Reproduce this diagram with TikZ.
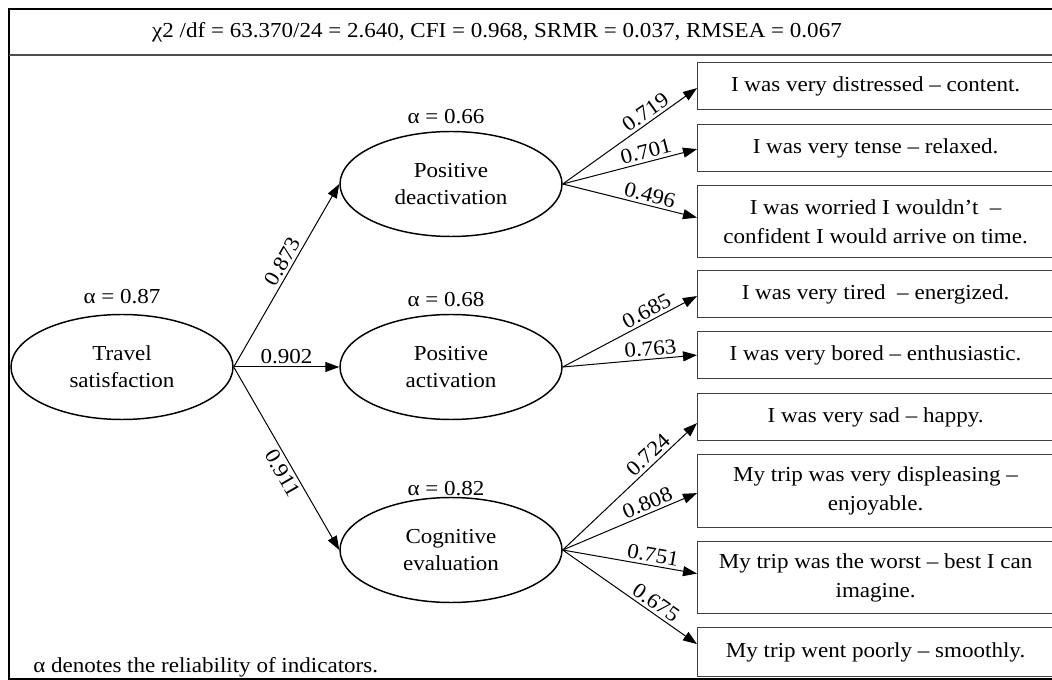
\documentclass[tikz,border=0pt]{standalone}
\usepackage{fontspec}
\setmainfont{Liberation Serif}[FakeStretch=1.08]
\usetikzlibrary{shapes.geometric,arrows.meta,calc}
\begin{document}
\begin{tikzpicture}[x=0.75pt,y=-0.75pt,
  txt/.style={font=\fontsize{16}{20}\selectfont, inner sep=0pt},
  latent/.style={ellipse, draw=black, line width=1.1pt, minimum width=166.5pt, minimum height=78.75pt,
    inner sep=0pt, align=center, font=\fontsize{16}{20}\selectfont},
  itembox/.style={rectangle, draw=black!75, line width=0.9pt, minimum width=267pt, anchor=north west,
    inner sep=0pt, align=center, font=\fontsize{16}{22}\selectfont},
  path/.style={line width=0.75pt, -{Triangle[length=10.5pt,width=7.5pt]}},
  coef/.style={sloped, above, inner sep=2pt, font=\fontsize{16}{20}\selectfont}]
\useasboundingbox (0,0) rectangle (1052,680);
\clip (0,0) rectangle (1052,680);
% frame
\draw[line width=1.2pt] (9,9) rectangle (1070,679);
\draw[line width=0.8pt, black!70] (9,55) -- (1070,55);
\node[txt] (hdr) at (497,32) {χ2 /df = 63.370/24 = 2.640, CFI = 0.968, SRMR = 0.037, RMSEA = 0.067};
\node[txt, anchor=west] (note) at (33,667) {α denotes the reliability of indicators.};
% latent variables
\node[latent] (ts) at (122,367) {Travel\\satisfaction};
\node[latent] (pd) at (451,184) {Positive\\deactivation};
\node[latent] (pa) at (451,367) {Positive\\activation};
\node[latent] (ce) at (451,550) {Cognitive\\evaluation};
\node[txt] (a1) at (122,297) {α = 0.87};
\node[txt] (a2) at (446,117) {α = 0.66};
\node[txt] (a3) at (446,300) {α = 0.68};
\node[txt] (a4) at (446,489) {α = 0.82};
% indicator boxes
\node[itembox, minimum height=35.25pt] (b1) at (697,62) {I was very distressed – content.};
\node[itembox, minimum height=35.25pt] (b2) at (697,124) {I was very tense – relaxed.};
\node[itembox, minimum height=54pt] (b3) at (697,185) {I was worried I wouldn’t \ –\\confident I would arrive on time.};
\node[itembox, minimum height=35.25pt] (b4) at (697,270) {I was very tired \ – energized.};
\node[itembox, minimum height=35.25pt] (b5) at (697,331) {I was very bored – enthusiastic.};
\node[itembox, minimum height=35.25pt] (b6) at (697,393) {I was very sad – happy.};
\node[itembox, minimum height=54.75pt] (b7) at (697,454) {My trip was very displeasing –\\enjoyable.};
\node[itembox, minimum height=54pt] (b8) at (697,541) {My trip was the worst – best I can\\imagine.};
\node[itembox, minimum height=36.75pt] (b9) at (697,627) {My trip went poorly – smoothly.};
% structural paths
\draw[path] (ts.east) -- node[coef, pos=0.55] (l1) {0.873} (pd.west);
\draw[path] (ts.east) -- node[coef, pos=0.5] (l2) {0.902} (pa.west);
\draw[path] (ts.east) -- node[coef, below, pos=0.55] (l3) {0.911} (ce.west);
% loadings
\draw[path] (pd.east) -- node[coef, pos=0.66] (l4) {0.719} ($(b1.west)+(0,2)$);
\draw[path] (pd.east) -- node[coef, pos=0.64] (l5) {0.701} ($(b2.west)+(0,1)$);
\draw[path] (pd.east) -- node[coef, pos=0.63] (l6) {0.496} ($(b3.west)+(0,-4)$);
\draw[path] (pa.east) -- node[coef, pos=0.66] (l7) {0.685} ($(b4.west)+(0,2)$);
\draw[path] (pa.east) -- node[coef, pos=0.66] (l8) {0.763} ($(b5.west)+(0,0)$);
\draw[path] (ce.east) -- node[coef, pos=0.69] (l9) {0.724} ($(b6.west)+(0,6)$);
\draw[path] (ce.east) -- node[coef, pos=0.66] (l10) {0.808} ($(b7.west)+(0,2)$);
\draw[path] (ce.east) -- node[coef, pos=0.66] (l11) {0.751} ($(b8.west)+(0,-4)$);
\draw[path] (ce.east) -- node[coef, pos=0.65] (l12) {0.675} ($(b9.west)+(0,-8)$);
\end{tikzpicture}
\end{document}
